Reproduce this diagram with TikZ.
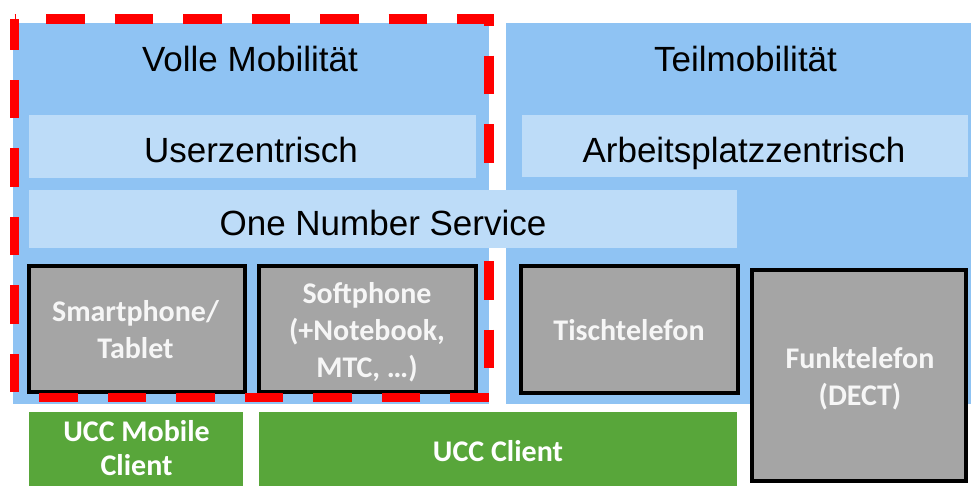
\documentclass[tikz,border=0pt]{standalone}
\usepackage{fontspec}
\setmainfont{Liberation Sans}
\newfontfamily\calfont{Carlito}
\definecolor{panelblue}{RGB}{143,195,243}
\definecolor{barblue}{RGB}{189,220,248}
\definecolor{devgray}{RGB}{165,165,165}
\definecolor{uccgreen}{RGB}{88,166,58}
\definecolor{devtext}{RGB}{246,246,246}
\begin{document}
\begin{tikzpicture}[x=1pt,y=-1pt,
  panel/.style={fill=panelblue, draw=none, inner sep=0pt},
  bar/.style={fill=barblue, draw=none, inner sep=0pt},
  title/.style={inner sep=0pt, text=black, font=\fontsize{35}{42}\selectfont},
  device/.style={fill=devgray, draw=black, line width=4pt, inner sep=0pt},
  devlabel/.style={text=devtext, align=center, inner sep=0pt,
     font=\calfont\bfseries\fontsize{30}{37}\selectfont},
  ucc/.style={fill=uccgreen, draw=none, inner sep=0pt},
  ucclabel/.style={text=white, align=center, inner sep=0pt,
     font=\calfont\bfseries\fontsize{30}{34.5}\selectfont},
  redframe/.style={draw=red, line width=9.5pt, dash pattern=on 38.5pt off 30pt, dash phase=37pt}
]
\useasboundingbox (0,0) rectangle (971,485);
\clip (0,0) rectangle (971,485);
% panels
\node[panel, minimum width=476pt, minimum height=381pt] (leftpanel) at (251,213.5) {};
\node[panel, minimum width=469pt, minimum height=381pt] (rightpanel) at (740.5,213.5) {};
% bars
\node[bar, minimum width=447pt, minimum height=63pt] (userbar) at (252.5,146.5) {};
\node[bar, minimum width=446pt, minimum height=62pt] (arbbar) at (745,146) {};
% titles
\node[title, anchor=base] (tvolle) at (250,71) {Volle Mobilität};
\node[title, anchor=base] (tteil) at (745.5,71) {Teilmobilität};
\node[title, anchor=base] (tuser) at (251,162) {Userzentrisch};
\node[title, anchor=base] (tarb) at (744,162) {Arbeitsplatzzentrisch};
% devices
\node[device, minimum width=216pt, minimum height=126pt] (smart) at (137,329) {};
\node[device, minimum width=217pt, minimum height=126pt] (soft) at (367.5,329) {};
\node[device, minimum width=217pt, minimum height=127pt] (tisch) at (629.5,329.5) {};
\node[device, minimum width=214pt, minimum height=211pt] (funk) at (859,375.5) {};
\node[devlabel] (smarttext) at (135.5,330) {Smartphone/\\Tablet};
\node[devlabel] (softtext) at (367,332) {Softphone\\(+Notebook,\\MTC, …)};
\node[devlabel] (tischtext) at (629,330) {Tischtelefon};
\node[devlabel] (funktext) at (860,379) {Funktelefon\\(DECT)};
% green clients
\node[ucc, minimum width=214pt, minimum height=80pt] (uccmobile) at (136,452) {};
\node[ucc, minimum width=478pt, minimum height=80pt] (uccclient) at (498,452) {};
\node[ucclabel] (uccmobiletext) at (136.5,448) {UCC Mobile\\Client};
\node[ucclabel] (uccclienttext) at (498,451) {UCC Client};
% red dashed frame
\coordinate (r1) at (14.5,19);
\coordinate (r2) at (489,19);
\coordinate (r3) at (489,397.5);
\coordinate (r4) at (14.5,397.5);
\draw[redframe] (r1) -- (r2) -- (r3) -- (r4) -- cycle;
% one number service bar on top
\node[bar, minimum width=708pt, minimum height=58pt] (onsbar) at (383,219) {};
\node[title, anchor=base] (tons) at (383,235) {One Number Service};
\end{tikzpicture}
\end{document}
